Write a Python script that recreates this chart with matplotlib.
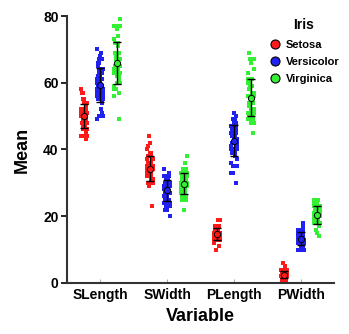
import matplotlib
matplotlib.use("Agg")
import matplotlib.pyplot as plt
from matplotlib.lines import Line2D
import numpy as np

variables = ["SLength", "SWidth", "PLength", "PWidth"]
species = ["Setosa", "Versicolor", "Virginica"]
colors = ["#FF1A1A", "#2222F0", "#33F033"]

setosa_sl = [51,49,47,46,50,54,46,50,44,49,54,48,48,43,58,57,54,51,57,51,54,51,46,51,48,50,50,52,52,47,48,54,52,55,49,50,55,49,44,51,50,45,44,50,51,48,51,46,53,50]
setosa_sw = [35,30,32,31,36,39,34,34,29,31,37,34,30,30,40,44,39,35,38,38,34,37,36,33,34,30,34,35,34,32,31,34,41,42,31,32,35,36,30,34,35,23,32,35,38,30,38,32,37,33]
setosa_pl = [14,14,13,15,14,17,14,15,14,15,15,16,14,11,12,15,13,14,17,15,17,15,10,17,19,16,16,15,14,16,16,15,15,14,15,12,13,14,13,15,13,13,13,16,19,14,16,14,15,14]
setosa_pw = [2,2,2,2,2,4,3,2,2,1,2,2,1,1,2,4,4,3,3,3,2,4,2,5,2,2,4,2,2,2,2,4,1,2,2,2,2,1,2,2,3,3,2,6,4,3,2,2,2,2]

versi_sl = [70,64,69,55,65,57,63,49,66,52,50,59,60,61,56,67,56,58,62,56,59,61,63,61,64,66,68,67,60,57,55,55,58,60,54,60,67,63,56,55,55,61,58,50,56,57,57,62,51,57]
versi_sw = [32,32,31,23,28,28,33,24,29,27,20,30,22,29,29,31,30,27,22,25,32,28,25,28,29,30,28,30,29,26,24,24,27,27,30,34,31,23,30,25,26,30,26,23,27,30,29,29,25,28]
versi_pl = [47,45,49,40,46,45,47,33,46,39,35,42,40,47,36,44,45,41,45,39,48,40,49,47,43,44,48,50,45,35,38,37,39,51,45,45,47,44,41,40,44,46,40,33,42,42,42,43,30,41]
versi_pw = [14,15,15,13,15,13,16,10,13,14,10,15,10,14,13,14,15,10,15,11,18,13,15,12,13,14,14,17,15,10,11,10,12,16,15,16,15,13,13,13,12,14,12,10,13,12,13,13,11,13]

virg_sl = [63,58,71,63,65,76,49,73,67,72,65,64,68,57,58,64,65,77,77,60,69,56,77,63,67,72,62,61,64,72,74,79,64,63,61,77,63,64,60,69,67,69,58,68,67,67,63,65,62,59]
virg_sw = [33,27,30,29,30,30,25,29,25,36,32,27,30,25,28,32,30,38,26,22,32,28,28,27,33,32,28,30,28,30,28,38,28,28,26,30,34,31,30,31,31,31,27,32,33,30,25,30,34,30]
virg_pl = [60,51,59,56,58,66,45,63,58,61,51,53,55,50,51,53,55,67,69,50,57,49,67,49,57,60,48,49,56,58,61,64,56,51,56,61,56,55,48,54,56,51,51,59,57,52,50,52,54,51]
virg_pw = [25,19,21,18,22,21,17,18,18,25,20,19,21,20,24,23,18,22,23,15,23,20,20,18,21,18,18,18,21,16,19,20,22,15,14,23,24,18,18,21,24,23,19,23,25,23,19,20,23,18]

data = {
    "Setosa": [setosa_sl, setosa_sw, setosa_pl, setosa_pw],
    "Versicolor": [versi_sl, versi_sw, versi_pl, versi_pw],
    "Virginica": [virg_sl, virg_sw, virg_pl, virg_pw],
}

plt.rcParams['font.family'] = ['Liberation Sans', 'DejaVu Sans']
fig = plt.figure(figsize=(3.49, 3.34), dpi=100)
ax = fig.add_axes([0.192, 0.153, 0.765, 0.799])

offsets = [-0.25, 0.0, 0.25]
for si, sp in enumerate(species):
    for vi, vals in enumerate(data[sp]):
        vals = np.asarray(vals, dtype=float)
        n = len(vals)
        jit = np.array([((k * 37) % 7 - 3) * 0.015 for k in range(n)])
        xc = vi + offsets[si]
        ax.scatter(xc + jit, vals, s=5, marker='s', color=colors[si], linewidths=0, zorder=2)
        m = vals.mean()
        sd = vals.std(ddof=1)
        ax.errorbar([xc], [m], yerr=[sd], fmt='none', ecolor='black', elinewidth=1.0,
                    capsize=3, capthick=1.0, zorder=3)
        ax.scatter([xc], [m], s=20, marker='o', color=colors[si], edgecolors='black',
                   linewidths=0.7, zorder=4)

ax.set_xlim(-0.5, 3.5)
ax.set_ylim(0, 80)
ax.set_yticks([0, 20, 40, 60, 80])
ax.set_xticks(range(4))
ax.set_xticklabels(variables)
for s in ['top', 'right']:
    ax.spines[s].set_visible(False)
for s in ['left', 'bottom']:
    ax.spines[s].set_linewidth(1.5)
    ax.spines[s].set_color('#333333')
ax.tick_params(axis='y', length=4, width=1.2, labelsize=10, pad=2)
ax.tick_params(axis='x', length=3, width=0.8, color='#aaaaaa', labelsize=10, pad=4, direction='in')
for lab in ax.get_xticklabels() + ax.get_yticklabels():
    lab.set_fontweight('bold')

ax.set_ylabel("Mean", fontsize=13, fontweight='bold', labelpad=9)
ax.set_xlabel("Variable", fontsize=13, fontweight='bold', labelpad=4)

handles = [Line2D([0], [0], marker='o', linestyle='none', markersize=6.5,
                  markerfacecolor=c, markeredgecolor='black', markeredgewidth=0.8)
           for c in colors]
leg = ax.legend(handles, species, title="Iris", frameon=False, loc='upper left',
                bbox_to_anchor=(0.731, 1.011), handletextpad=0.25, labelspacing=0.65,
                prop={'weight': 'bold', 'size': 8}, borderaxespad=0.0,
                handlelength=1.5)
leg.get_title().set_fontweight('bold')
leg.get_title().set_fontsize(10)
leg._legend_box.sep = 6

fig.savefig("out.png", dpi=100)
